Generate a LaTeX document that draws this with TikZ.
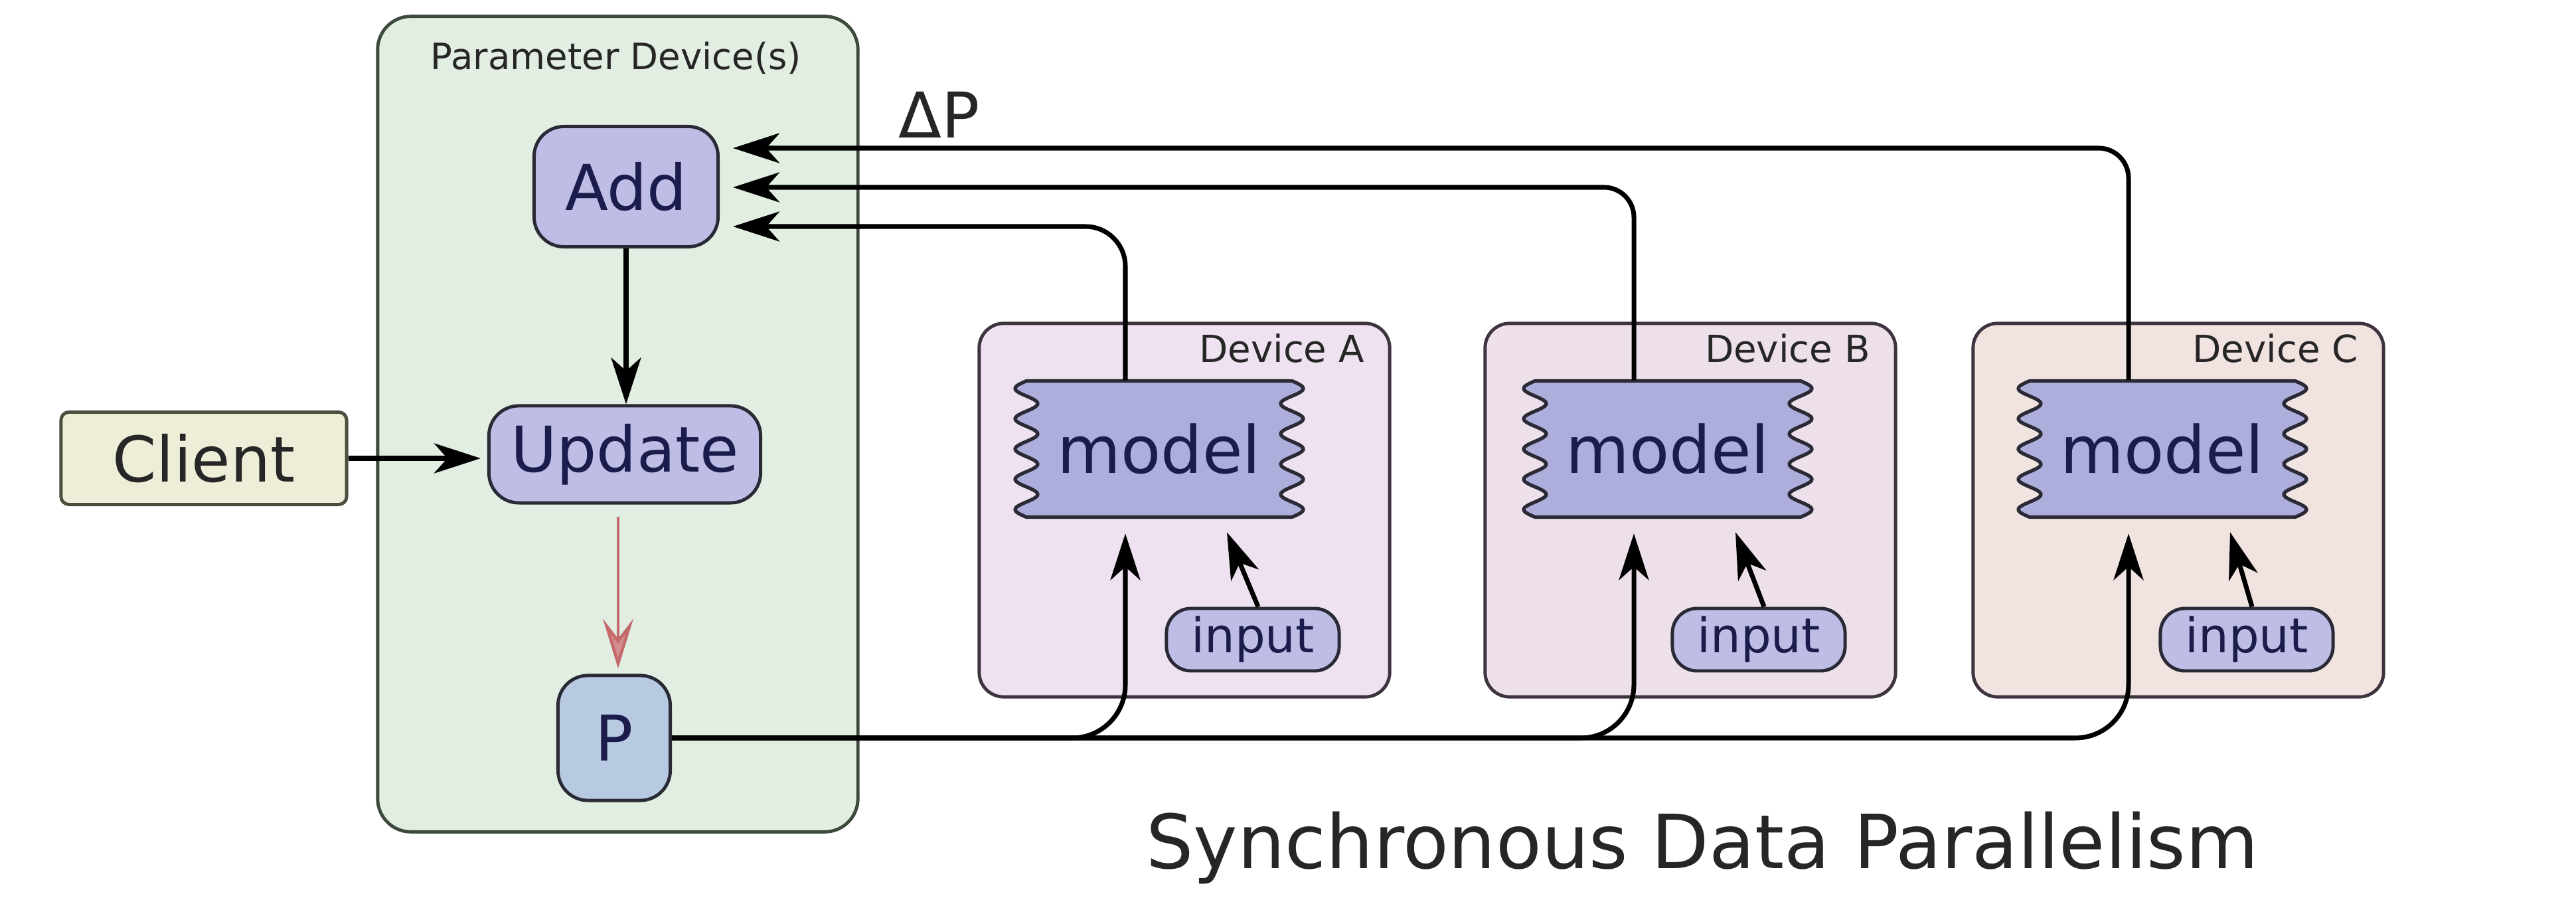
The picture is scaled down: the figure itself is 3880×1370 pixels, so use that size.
\documentclass[tikz,border=0pt]{standalone}
\usepackage{fontspec}
\setmainfont{DejaVu Sans}
\usetikzlibrary{arrows.meta,calc}
\definecolor{pgreen}{HTML}{E1EEE1}
\definecolor{pgreenb}{HTML}{3C4A3C}
\definecolor{lav}{HTML}{BDBDE5}
\definecolor{pblue}{HTML}{B8CAE2}
\definecolor{beige}{HTML}{EDEDD8}
\definecolor{beigeb}{HTML}{4E4E3E}
\definecolor{devA}{HTML}{EEE2F0}
\definecolor{devB}{HTML}{EEE0EA}
\definecolor{devC}{HTML}{F1E3E0}
\definecolor{devb}{HTML}{3E3440}
\definecolor{modelfill}{HTML}{AEAEDC}
\definecolor{txtblue}{HTML}{1C1C4C}
\definecolor{redarrow}{HTML}{C46A6A}
\definecolor{edge}{HTML}{2A2A36}
\begin{document}
\begin{tikzpicture}[x=0.01cm,y=-0.01cm,
  conn/.style={line width=2pt, draw=black, -{Stealth[length=7mm,width=4.5mm,inset=2mm]}},
  redconn/.style={line width=1.3pt, draw=redarrow, -{Stealth[length=7.5mm,width=4.6mm,inset=3mm,fill=redarrow!75]}},
  box/.style={draw=edge, line width=1.4pt, rounded corners=4.5mm, fill=lav, text=txtblue,
    font=\fontsize{27}{32}\selectfont, inner sep=0pt},
  clientbox/.style={draw=beigeb, line width=1.4pt, rounded corners=1.2mm, fill=beige, text=black!85,
    font=\fontsize{27}{32}\selectfont, inner sep=0pt, minimum width=4.3cm, minimum height=1.39cm},
  paramframe/.style={draw=pgreenb, fill=pgreen, line width=1.4pt, rounded corners=5mm,
    minimum width=7.23cm, minimum height=12.27cm, inner sep=0pt},
  device/.style={draw=devb, line width=1.4pt, rounded corners=3.7mm,
    minimum width=6.18cm, minimum height=5.62cm, inner sep=0pt},
  smalllbl/.style={font=\fontsize{16}{19}\selectfont, text=black!85, inner sep=0pt},
  modelshape/.style={fill=modelfill, draw=edge, line width=1.5pt, line join=round},
  modeltxt/.style={font=\fontsize{28}{33}\selectfont, text=txtblue, inner sep=0pt,
    minimum width=4.04cm, minimum height=2.05cm},
  inbox/.style={draw=edge, line width=1.4pt, rounded corners=3.7mm, fill=lav, text=txtblue,
    font=\fontsize{20.5}{24}\selectfont, inner sep=0pt, minimum width=2.6cm, minimum height=0.94cm},
  bigtxt/.style={font=\fontsize{27}{32}\selectfont, text=black!85, inner sep=0pt}
]
\fill[white] (0,0) rectangle (3880,1370);
\useasboundingbox (0,0) rectangle (3880,1370);

% parameter device
\node[paramframe] (param) at (930.5,638.5) {};
\node[smalllbl, font=\fontsize{15.5}{18}\selectfont] (paramlbl) at (928,87) {Parameter Device(s)};
\node[box, minimum width=2.77cm, minimum height=1.81cm] (add) at (943,281) {Add};
\node[box, minimum width=4.09cm, minimum height=1.46cm] (upd) at (941,684) {Update};
\node[box, fill=pblue, minimum width=1.69cm, minimum height=1.88cm] (P) at (925,1111) {P};
\node[clientbox] (client) at (307,690) {Client};

\node[bigtxt] (dp) at (1415,173) {ΔP};
\node[font=\fontsize{32}{38}\selectfont, text=black!85, inner sep=0pt] (cap) at (2564,1276) {Synchronous Data Parallelism};

\draw[conn] (add.south) -- (add.south |- upd.north);
\draw[redconn] ($(upd.south -| P.north)+(6,18)$) -- ($(P.north)+(6,-8)$);
\draw[conn, shorten >=1mm] (client.east) -- (client.east -| upd.west);

\foreach \d/\cx/\col/\ty/\rc/\mdx in {A/1784/devA/60/6mm/-38, B/2546/devB/1/4.5mm/-34, C/3281/devC/-58/4.5mm/-24}{
  \node[device, fill=\col] (d\d) at (\cx,768) {};
  \node[smalllbl, anchor=east] (dl\d) at ($(d\d.north east)+(-40,40)$) {Device \d};
  \coordinate (mc\d) at ($(d\d.center)+(\mdx,-92)$);
  \begin{scope}[shift={(mc\d)}]
    \path[modelshape] (-200,-102.5) -- (200,-102.5)
      -- plot[domain=0:1, samples=121, smooth] ({200+17*sin(1620*\x)}, {-102.5+205*\x})
      -- (-200,102.5)
      -- plot[domain=0:1, samples=121, smooth] ({-200-17*sin(1620*\x)}, {102.5-205*\x})
      -- cycle;
  \end{scope}
  \node[modeltxt] (m\d) at (mc\d) {model};
  \node[inbox] (i\d) at ($(d\d.center)+(103,195)$) {input};
  \coordinate (x\d) at ($(mc\d)+(-51,0)$);
  \coordinate (t\d) at ($(add.east)+(20,\ty)$);
  \draw[conn, rounded corners=\rc] (m\d.north -| x\d) |- (t\d);
  \draw[conn, rounded corners=8mm] (P.east) -| ($(m\d.south -| x\d)+(0,24)$);
  \draw[conn] ($(i\d.north)+(8,0)$) -- ($(m\d.south)+(102,22)$);
}
\end{tikzpicture}
\end{document}
